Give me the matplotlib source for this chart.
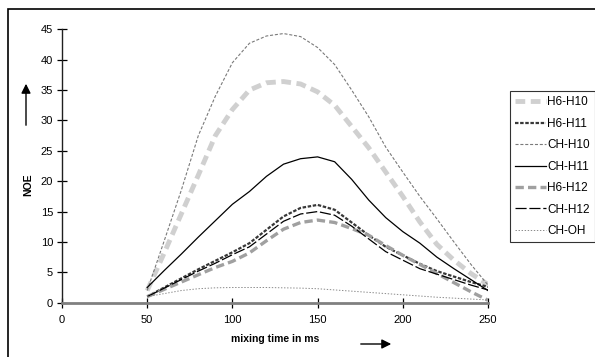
import numpy as np
import matplotlib
matplotlib.use('Agg')
from matplotlib import pyplot as plt
from matplotlib.patches import Rectangle

plt.rcParams['font.family'] = ['Liberation Sans', 'DejaVu Sans']
plt.rcParams['lines.scale_dashes'] = False

# mixing time (ms) and NOE values
t = [50, 60, 70, 80, 90, 100, 110, 120, 130, 140, 150,
     160, 170, 180, 190, 200, 210, 220, 230, 240, 250]
h6_h10 = [2.0, 8.2, 14.6, 21.0, 27.5, 31.8, 35.0, 36.2, 36.4, 36.0, 34.7,
          32.5, 29.0, 25.5, 21.5, 17.5, 13.3, 9.6, 7.0, 4.8, 3.0]
h6_h11 = [1.0, 2.5, 4.0, 5.5, 6.9, 8.3, 9.8, 12.0, 14.2, 15.6, 16.1,
          15.3, 13.2, 11.1, 9.2, 7.8, 6.4, 5.2, 4.3, 3.4, 2.6]
ch_h10 = [2.0, 10.2, 18.5, 27.5, 34.0, 39.5, 42.7, 43.9, 44.3, 43.8, 42.0,
          39.2, 35.0, 30.6, 25.6, 21.5, 17.5, 13.8, 10.0, 6.3, 2.9]
ch_h11 = [2.5, 5.3, 8.0, 10.8, 13.5, 16.2, 18.3, 20.8, 22.8, 23.7, 24.0,
          23.2, 20.3, 16.9, 14.0, 11.7, 9.8, 7.5, 5.6, 3.8, 2.0]
h6_h12 = [1.0, 2.2, 3.4, 4.6, 5.8, 6.8, 8.2, 10.2, 12.1, 13.2, 13.6,
          13.2, 12.2, 11.1, 9.4, 7.8, 6.3, 4.8, 3.3, 1.8, 0.4]
ch_h12 = [1.0, 2.4, 3.8, 5.2, 6.5, 7.9, 9.2, 11.3, 13.4, 14.6, 15.0,
          14.4, 12.6, 10.5, 8.4, 7.0, 5.6, 4.7, 3.8, 2.9, 2.1]
ch_oh = [1.0, 1.5, 2.0, 2.3, 2.45, 2.5, 2.5, 2.5, 2.45, 2.4, 2.3,
         2.1, 1.9, 1.7, 1.5, 1.3, 1.1, 0.9, 0.75, 0.6, 0.45]

fig = plt.figure(figsize=(5.95, 3.57), dpi=100)
ax = fig.add_axes([62/595, 1 - 302.7/357, 426/595, 273.4/357])

ax.plot(t, h6_h10, color='#d0d0d0', lw=3.5, dashes=(7, 4), label='H6-H10')
ax.plot(t, h6_h11, color='#383838', lw=1.6, dashes=(2.5, 1.2), label='H6-H11')
ax.plot(t, ch_h10, color='#7a7a7a', lw=0.8, dashes=(2.2, 1.3), label='CH-H10')
ax.plot(t, ch_h11, color='black', lw=0.9, label='CH-H11')
ax.plot(t, h6_h12, color='#a0a0a0', lw=2.4, dashes=(6, 3), label='H6-H12')
ax.plot(t, ch_h12, color='black', lw=0.9, dashes=(8, 2), label='CH-H12')
ax.plot(t, ch_oh, color='#8a8a8a', lw=0.7, dashes=(1, 1.2), label='CH-OH')

ax.set_xlim(0, 250)
ax.set_ylim(0, 45)
ax.set_xticks(range(0, 251, 50))
ax.set_yticks(range(0, 46, 5))
for s in ['top', 'right']:
    ax.spines[s].set_visible(False)
ax.spines['bottom'].set_color('#808080')
ax.spines['bottom'].set_linewidth(2)
ax.spines['left'].set_color('#202020')
ax.spines['left'].set_linewidth(1)
ax.tick_params(direction='inout', length=7, width=0.9, labelsize=8, pad=3)
ax.tick_params(axis='x', pad=5)

leg = ax.legend(loc='upper left', bbox_to_anchor=(510/595, 1 - 91/357),
                bbox_transform=fig.transFigure, frameon=True, fancybox=False,
                edgecolor='black', fontsize=8.5, handlelength=2.6,
                handletextpad=0.1, labelspacing=0.8, borderpad=0.45,
                borderaxespad=0)
leg.get_frame().set_linewidth(0.8)

# axis titles with arrows
fig.text(275/595, 1 - 339/357, 'mixing time in ms', fontsize=7.5,
         fontweight='bold', ha='center', va='center')
fig.text(28/595, 1 - 185/357, 'NOE', fontsize=7.5, fontweight='bold',
         rotation=90, ha='center', va='center')
ax.annotate('', xy=(26/595, 1 - 81/357), xytext=(26/595, 1 - 128/357),
            xycoords='figure fraction', textcoords='figure fraction',
            arrowprops=dict(arrowstyle='-|>', color='black', lw=1,
                            mutation_scale=14))
ax.annotate('', xy=(394/595, 1 - 344/357), xytext=(358/595, 1 - 344/357),
            xycoords='figure fraction', textcoords='figure fraction',
            arrowprops=dict(arrowstyle='-|>', color='black', lw=1,
                            mutation_scale=14))

# chart border (only left and top are inside the picture)
fig.patches.append(Rectangle((8/595, -0.2), 1.2, 1.2 - 9/357,
                             transform=fig.transFigure, fill=False,
                             edgecolor='black', lw=1.2))

fig.savefig('out.png', dpi=100)
